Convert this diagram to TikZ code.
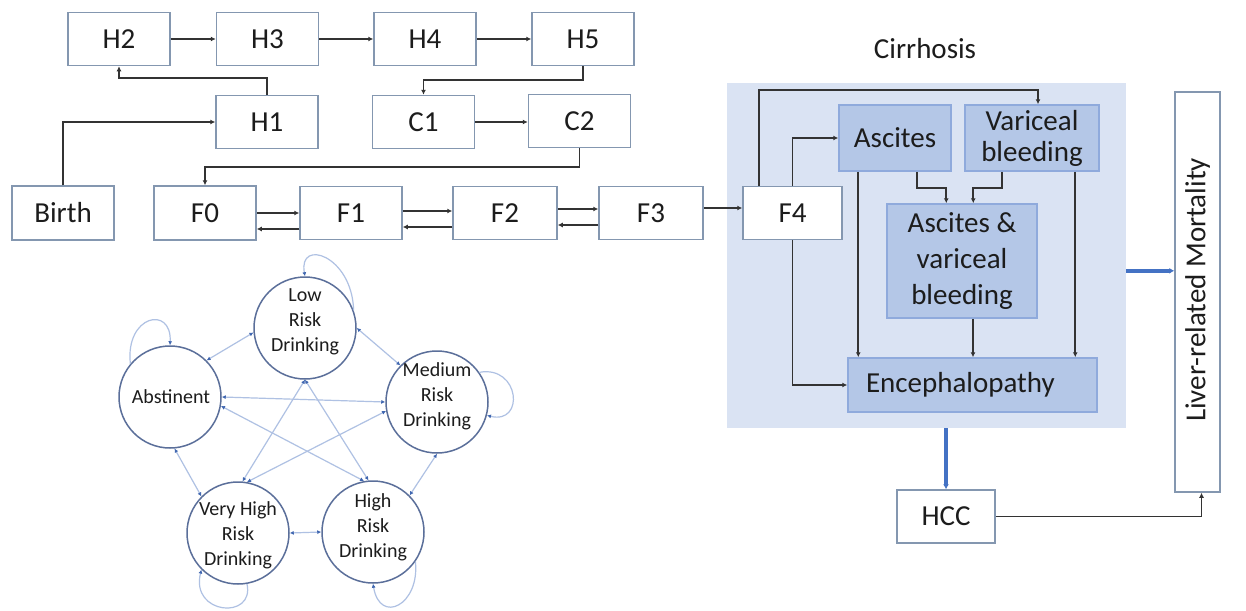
\documentclass[tikz,border=0pt]{standalone}
\usepackage{fontspec}
\setmainfont{Carlito}
\usetikzlibrary{arrows.meta,calc}
\definecolor{txt}{HTML}{1C1C1C}
\definecolor{boxline}{HTML}{8497B0}
\definecolor{arrline}{HTML}{333333}
\definecolor{cirbg}{HTML}{DAE3F3}
\definecolor{innerfill}{HTML}{B4C7E7}
\definecolor{innerline}{HTML}{8FAADC}
\definecolor{bluearr}{HTML}{4472C4}
\definecolor{netline}{HTML}{AFC1E3}
\definecolor{netcirc}{HTML}{5B6F9A}
\definecolor{nettip}{HTML}{3F66B0}
\begin{document}
\begin{tikzpicture}[x=1pt,y=1pt,
 box/.style={draw=boxline,line width=1.5pt,fill=white,minimum width=102pt,minimum height=53pt,inner sep=0pt,font=\fontsize{29}{34}\selectfont,text=txt,align=center},
 ibox/.style={box,fill=innerfill,draw=innerline},
 arr/.style={draw=arrline,line width=1.7pt,-{Latex[length=5pt,width=5pt]}},
 barr/.style={draw=bluearr,line width=4pt,-{Latex[length=5pt,width=6pt]}},
 ncirc/.style={circle,draw=netcirc,line width=1.5pt,minimum size=102pt,inner sep=0pt},
 ntext/.style={align=center,font=\fontsize{20}{25}\selectfont,text=txt,inner sep=0pt},
 nedge/.style={draw=netline,line width=1.2pt,{Latex[length=4pt,width=4pt,color=nettip]}-{Latex[length=4pt,width=4pt,color=nettip]}},
 nloop/.style={draw=netline,line width=1.2pt,-{Latex[length=4pt,width=4pt,color=nettip]}}
]
\useasboundingbox (0,0) rectangle (1246,-610);
\fill[white] (0,0) rectangle (1246,-610);

% cirrhosis background
\node[fill=cirbg,minimum width=399pt,minimum height=345pt,inner sep=0pt] (cirr) at (926.5,-255.5) {};
\node[font=\fontsize{29}{34}\selectfont,text=txt] (ctitle) at (925,-49) {Cirrhosis};

% top flow
\node[box] (H2) at (119,-39) {H2};
\node[box] (H3) at (267.5,-39) {H3};
\node[box] (H4) at (425,-39) {H4};
\node[box] (H5) at (583,-39) {H5};
\node[box] (H1) at (267,-122) {H1};
\node[box] (C1) at (423.5,-122) {C1};
\node[box] (C2) at (579.5,-121) {C2};
\node[box,minimum height=54pt] (Birth) at (63,-213) {Birth};
\node[box,minimum height=54pt] (F0) at (205,-213) {F0};
\node[box] (F1) at (351,-213) {F1};
\node[box,minimum width=104pt] (F2) at (505,-213) {F2};
\node[box,minimum width=104pt] (F3) at (651,-213) {F3};
\node[box,minimum width=99pt] (F4) at (792.5,-213) {F4};

% cirrhosis inner boxes
\node[ibox,minimum width=112pt,minimum height=66pt] (Asc) at (895,-138) {Ascites};
\node[ibox,minimum width=134pt,minimum height=66pt,font=\fontsize{29}{31}\selectfont] (Var) at (1032,-138) {Variceal\\bleeding};
\node[ibox,minimum width=150pt,minimum height=114pt,font=\fontsize{29}{36}\selectfont] (AVB) at (962,-261) {Ascites \&\\variceal\\bleeding};
\node[ibox,minimum width=249pt,minimum height=54pt,text width=249pt,align=left,inner xsep=0pt] (Enc) at (972.5,-385) {\hspace*{18pt}Encephalopathy};

% mortality and HCC
\node[box,minimum width=45pt,minimum height=400pt] (mort) at (1197.5,-292) {};
\node[rotate=90,font=\fontsize{29}{34}\selectfont,text=txt,inner sep=0pt] (morttext) at (1197.5,-290) {Liver-related Mortality};
\node[box,minimum width=98pt] (HCC) at (946,-516.5) {HCC};

% top flow arrows
\draw[arr] (H2.east) -- (H3.west);
\draw[arr] (H3.east) -- (H4.west);
\draw[arr] (H4.east) -- (H5.west);
\draw[arr] (H1.north) -- ++(0,17) -| (H2.south);
\draw[arr] (Birth.north) |- (H1.west);
\draw[arr] (H5.south) -- ++(0,-14) -| (C1.north);
\draw[arr] (C1.east) -- (C1.east -| C2.west);
\draw[arr] (C2.south) -- ++(0,-19) -| (F0.north);

\draw[arr] ($(F0.east)+(0,0)$) -- ($(F1.west)+(0,0)$);
\draw[arr] ($(F1.west)+(0,-16)$) -- ($(F0.east)+(0,-16)$);
\draw[arr] ($(F1.east)+(0,2)$) -- ($(F2.west)+(0,2)$);
\draw[arr] ($(F2.west)+(0,-14)$) -- ($(F1.east)+(0,-14)$);
\draw[arr] ($(F2.east)+(0,4)$) -- ($(F3.west)+(0,4)$);
\draw[arr] ($(F3.west)+(0,-12)$) -- ($(F2.east)+(0,-12)$);
\draw[arr] ($(F3.east)+(0,5)$) -- ($(F4.west)+(0,5)$);

% cirrhosis arrows
\coordinate (f4a) at ($(F4.north west)+(17,0)$);
\coordinate (va) at ($(Var.north)+(6,0)$);
\draw[arr] (f4a) -- ++(0,96) -| (va);
\draw[arr] (F4.north) |- (Asc.west);
\draw[arr] (F4.south) |- (Enc.west);
\coordinate (a1) at ($(Asc.south west)+(20,0)$);
\draw[arr] (a1) -- (a1 |- Enc.north);
\coordinate (a2) at ($(Asc.south west)+(79,0)$);
\coordinate (b2) at ($(AVB.north west)+(60,0)$);
\draw[arr] (a2) -- ++(0,-16) -| (b2);
\coordinate (v2) at ($(Var.south west)+(38,0)$);
\coordinate (b3) at ($(AVB.north west)+(87,0)$);
\draw[arr] (v2) -- ++(0,-16) -| (b3);
\coordinate (v1) at ($(Var.south west)+(111,0)$);
\draw[arr] (v1) -- (v1 |- Enc.north);
\coordinate (b4) at ($(AVB.south)+(11,0)$);
\draw[arr] (b4) -- (b4 |- Enc.north);

% outcome arrows
\coordinate (c1) at ($(cirr.north east)+(0,-188)$);
\draw[barr] (c1) -- (c1 -| mort.west);
\draw[barr] (HCC.north |- cirr.south) -- (HCC.north);
\coordinate (m1) at ($(mort.south)+(4,0)$);
\draw[arr] (HCC.east) -| (m1);

% drinking network
\node[ncirc] (low) at (305,-328) {};
\node[ncirc] (abs) at (170,-397) {};
\node[ncirc] (med) at (437,-402) {};
\node[ncirc] (vh) at (238,-533) {};
\node[ncirc] (high) at (373,-532) {};
\node[ntext] (lowt) at (305,-322) {Low\\Risk\\Drinking};
\node[ntext] (abst) at (171,-397) {Abstinent};
\node[ntext] (medt) at (437,-396) {Medium\\Risk\\Drinking};
\node[ntext] (vht) at (238,-535) {Very High\\Risk\\Drinking};
\node[ntext] (hight) at (373,-527) {High\\Risk\\Drinking};

\draw[nedge] (low.185) -- (abs.45);
\draw[nedge] (low.east) -- (med.135);
\draw[nedge] (abs.east) -- (med.west);
\draw[nedge] (abs.-85) -- (vh.135);
\draw[nedge] (med.-90) -- (high.45);
\draw[nedge] (vh.east) -- (high.west);
\draw[nedge] (low.-90) -- (vh.85);
\draw[nedge] (low.-90) -- (high.95);
\draw[nedge] (abs.-10) -- (high.100);
\draw[nedge] (med.190) -- (vh.80);

\draw[nloop] (low.20) .. controls (352,-255) and (298,-238) .. (low.90);
\draw[nloop] (abs.140) .. controls (125,-315) and (172,-305) .. (abs.90);
\draw[nloop] (med.35) .. controls (520,-365) and (525,-425) .. (med.-15);
\draw[nloop] (vh.-80) .. controls (255,-620) and (190,-615) .. (vh.225);
\draw[nloop] (high.-35) .. controls (420,-605) and (380,-625) .. (high.-90);
\end{tikzpicture}
\end{document}
